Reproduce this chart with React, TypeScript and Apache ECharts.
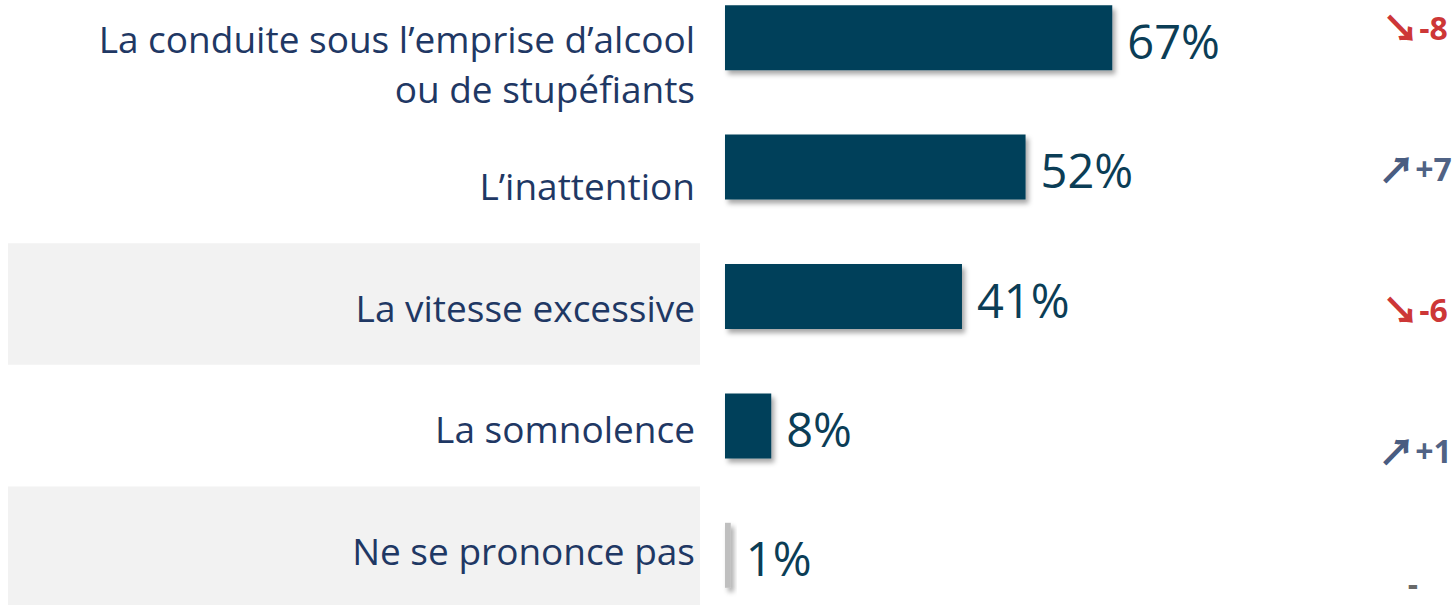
import React, { useEffect, useRef } from "react";
import * as echarts from "echarts";

const categories = [
  "La conduite sous l’emprise d’alcool\nou de stupéfiants",
  "L’inattention",
  "La vitesse excessive",
  "La somnolence",
  "Ne se prononce pas",
];
const values = [67, 52, 41, 8, 1];
const bandFlags = [0, 0, 1, 0, 1];
const barColors = ["#05405A", "#05405A", "#05405A", "#05405A", "#BFBFBF"];
const deltas = ["-8", "+7", "-6", "+1", "-"];

export default function App() {
  const ref = useRef<HTMLDivElement>(null);
  useEffect(() => {
    if (!ref.current) return;
    const chart = echarts.init(ref.current, null, { renderer: "svg" });
    const font = "Open Sans";
    const arrowFont = "Noto Sans CJK SC";
    chart.setOption({
      animation: false,
      backgroundColor: "#ffffff",
      grid: [
        { left: 8, width: 692, top: 0, height: 608, outerBoundsMode: "none" },
        { left: 725, width: 578, top: -27, height: 647, outerBoundsMode: "none" },
        { left: 1380, width: 70, top: 27, height: 564, outerBoundsMode: "none" },
      ],
      xAxis: [
        { type: "value", gridIndex: 0, min: 0, max: 1, show: false },
        { type: "value", gridIndex: 1, min: 0, max: 100, show: false },
        { type: "value", gridIndex: 2, min: 0, max: 1, show: false },
      ],
      yAxis: [
        { type: "category", gridIndex: 0, inverse: true, data: categories, show: false },
        { type: "category", gridIndex: 1, inverse: true, data: categories, show: false },
        { type: "value", gridIndex: 2, inverse: true, min: 0, max: 4, show: false },
      ],
      series: [
        {
          type: "bar",
          xAxisIndex: 0,
          yAxisIndex: 0,
          barWidth: "100%",
          silent: true,
          data: categories.map((c, i) => ({
            value: 1,
            name: c,
            itemStyle: { color: bandFlags[i] ? "#F2F2F2" : "rgba(255,255,255,0)" },
          })),
          label: {
            show: true,
            position: "insideRight",
            distance: 5,
            offset: [0, 3],
            formatter: (p: any) => categories[p.dataIndex],
            color: "#1F3864",
            fontFamily: font,
            fontSize: 37,
            lineHeight: 50,
            align: "right",
          },
        },
        {
          type: "bar",
          xAxisIndex: 1,
          yAxisIndex: 1,
          barWidth: 65,
          data: values.map((v, i) => ({
            value: v,
            itemStyle: {
              color: barColors[i],
              shadowBlur: 5,
              shadowOffsetX: 3,
              shadowOffsetY: 4,
              shadowColor: "rgba(0,0,0,0.35)",
            },
          })),
          label: {
            show: true,
            position: "right",
            distance: 15,
            offset: [0, 3],
            formatter: "{c}%",
            color: "#0B3D56",
            fontFamily: font,
            fontSize: 47,
          },
        },
        {
          type: "scatter",
          xAxisIndex: 2,
          yAxisIndex: 2,
          symbolSize: 1,
          itemStyle: { color: "rgba(0,0,0,0)" },
          silent: true,
          data: deltas.map((d, i) =>
            d.length < 2
              ? { value: [0.5, i], label: { offset: [-2, -8] } }
              : { value: [0.5, i] }
          ),
          label: {
            show: true,
            position: "inside",
            align: "center",
            verticalAlign: "middle",
            formatter: (p: any) => {
              const d = deltas[p.dataIndex];
              if (d.length < 2) return `{dash|${d}}`;
              if (d[0] === "-") return `{downA|↘}{down|${d}}`;
              return `{upA|↗}{up|${d}}`;
            },
            rich: {
              downA: { fontFamily: arrowFont, fontWeight: 900, fontSize: 37, color: "#C00000" },
              down: { fontFamily: font, fontWeight: "bold", fontSize: 32, color: "#C00000" },
              upA: { fontFamily: arrowFont, fontWeight: 900, fontSize: 37, color: "#17305E" },
              up: { fontFamily: font, fontWeight: "bold", fontSize: 32, color: "#1F3864" },
              dash: { fontFamily: font, fontWeight: "bold", fontSize: 32, lineHeight: 22, color: "#404040" },
            },
          },
        },
      ],
    });
    return () => chart.dispose();
  }, []);
  return (
    <div
      ref={ref}
      style={{ position: "absolute", left: 0, top: 0, width: 1453, height: 605 }}
    />
  );
}
